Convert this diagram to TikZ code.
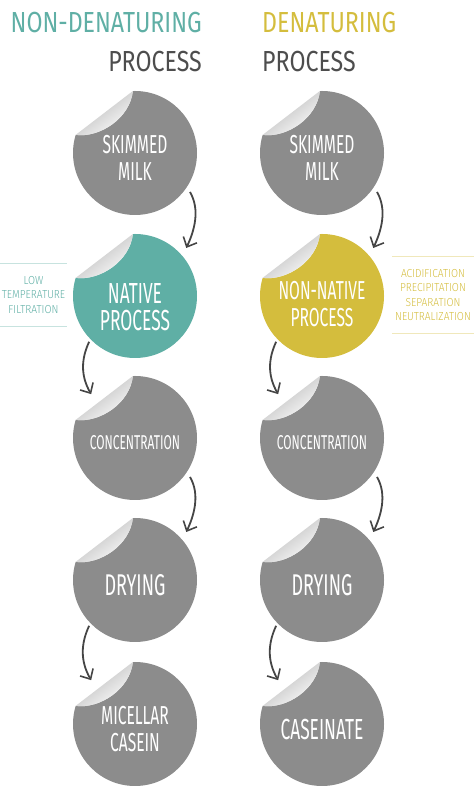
\documentclass[tikz,border=0pt]{standalone}
\usepackage{xcolor}
\usepackage{tikz}
\usetikzlibrary{arrows.meta, positioning}
\usepackage{fontspec}
\newfontfamily\stickfont{Fira Sans}[FakeStretch=0.6]
\newfontfamily\headfont{Fira Sans}[FakeStretch=0.8]
\newfontfamily\notefont{Fira Sans Light}[FakeStretch=0.88]
\definecolor{stickgray}{HTML}{8C8C8C}
\definecolor{tealc}{HTML}{5FAFA5}
\definecolor{mustard}{HTML}{D4BD3D}
\definecolor{arrowgray}{HTML}{454545}
\definecolor{headgray}{HTML}{4D4D4D}

\begin{document}
\begin{tikzpicture}[x=1pt, y=1pt,
		sticker/.style={circle, minimum size=124pt, inner sep=0pt, outer sep=0pt, fill=stickgray},
		stxt/.style={text=white, align=center, inner sep=0pt, font=\stickfont\fontsize{26}{27}\selectfont},
		head/.style={inner sep=0pt, font=\headfont\fontsize{29}{30}\selectfont},
		note/.style={inner sep=0pt, align=center, font=\notefont\fontsize{11.6}{14.5}\selectfont},
		flow/.style={draw=arrowgray, line width=1.8pt, -{Straight Barb[length=8pt, width=15pt, line width=1.6pt]}}]
				\useasboundingbox (0,0) rectangle (474,794);
				% titles
				\node[head, anchor=base east, text=tealc] (titleA) at (202,761) {NON-DENATURING};
				\node[head, anchor=base east, text=headgray] (procA) at (202,722) {PROCESS};
				\node[head, anchor=base west, text=mustard] (titleB) at (262,761) {DENATURING};
				\node[head, anchor=base west, text=headgray] (procB) at (262,722) {PROCESS};
				% stickers
				\node[sticker] (skimA) at (135,641) {};
				\node[sticker, fill=tealc] (natA) at (135,498) {};
				\node[sticker] (concA) at (135,356) {};
				\node[sticker] (dryA) at (135,214) {};
				\node[sticker] (micA) at (135,70) {};
				\node[sticker] (skimB) at (322,641) {};
				\node[sticker, fill=mustard] (nonB) at (322,498) {};
				\node[sticker] (concB) at (322,356) {};
				\node[sticker] (dryB) at (322,214) {};
				\node[sticker] (casB) at (322,70) {};
				% peeled corners
				\foreach \n in {skimA,natA,concA,dryA,micA,skimB,nonB,concB,dryB,casB}{
					\begin{scope}[shift={(\n.center)}]
						\fill[white] (163:63) arc[start angle=163, end angle=92, radius=63] -- (92:62) .. controls (-5,35) and (-35,15) .. (163:62) -- cycle;
						\shade[top color=gray!60, bottom color=white, shading angle=37] (163:62) -- (92:62) .. controls (-5,35) and (-35,15) .. cycle;
					\end{scope}
				}
				% sticker texts
				\node[stxt] (skimA-t) at ([yshift=-5pt]skimA.center) {SKIMMED\\MILK};
				\node[stxt, font=\stickfont\fontsize{29}{27}\selectfont] (natA-t) at ([yshift=-11pt]natA.center) {NATIVE\\PROCESS};
				\node[stxt, font=\stickfont\fontsize{20}{22}\selectfont] (concA-t) at ([yshift=-5pt]concA.center) {CONCENTRATION};
				\node[stxt, font=\stickfont\fontsize{30}{30}\selectfont] (dryA-t) at ([yshift=-5pt]dryA.center) {DRYING};
				\node[stxt] (micA-t) at ([yshift=-5pt]micA.center) {MICELLAR\\CASEIN};
				\node[stxt] (skimB-t) at ([yshift=-5pt]skimB.center) {SKIMMED\\MILK};
				\node[stxt] (nonB-t) at ([yshift=-8pt]nonB.center) {NON-NATIVE\\PROCESS};
				\node[stxt, font=\stickfont\fontsize{20}{22}\selectfont] (concB-t) at ([yshift=-5pt]concB.center) {CONCENTRATION};
				\node[stxt, font=\stickfont\fontsize{30}{30}\selectfont] (dryB-t) at ([yshift=-5pt]dryB.center) {DRYING};
				\node[stxt, font=\stickfont\fontsize{29}{30}\selectfont] (casB-t) at ([yshift=-6pt]casB.center) {CASEINATE};
				% side notes
				\node[note, text=tealc, minimum width=67pt, minimum height=62pt] (lowT) at (33.5,499) {LOW\\TEMPERATURE\\FILTRATION};
				\draw[tealc!35, line width=0.8pt] (lowT.north west) -- (lowT.north east) (lowT.south west) -- (lowT.south east);
				\node[note, text=mustard, minimum width=82pt, minimum height=76pt] (acid) at (433,499) {ACIDIFICATION\\PRECIPITATION\\SEPARATION\\NEUTRALIZATION};
				\draw[mustard!35, line width=0.8pt] (acid.north west) -- (acid.north east) (acid.south west) -- (acid.south east);
				% arrows
				\draw[flow, shorten <=6pt, shorten >=9pt] (skimA.-33) to[out=-60, in=65] (natA.40);
				\draw[flow, shorten <=3pt] (natA.-136) to[out=-115, in=120] (concA.135);
				\draw[flow, shorten <=6pt, shorten >=9pt] (concA.-33) to[out=-60, in=65] (dryA.40);
				\draw[flow, shorten <=3pt] (dryA.-136) to[out=-115, in=120] (micA.135);
				\draw[flow, shorten <=6pt, shorten >=9pt] (skimB.-33) to[out=-60, in=65] (nonB.40);
				\draw[flow, shorten <=3pt] (nonB.-136) to[out=-115, in=120] (concB.135);
				\draw[flow, shorten <=6pt, shorten >=9pt] (concB.-33) to[out=-60, in=65] (dryB.40);
				\draw[flow, shorten <=3pt] (dryB.-136) to[out=-115, in=120] (casB.135);
			\end{tikzpicture}
\end{document}
